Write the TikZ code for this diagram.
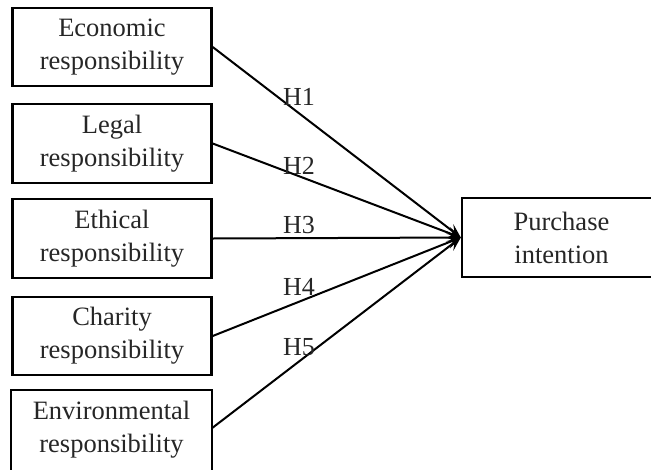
\documentclass[tikz,border=0pt]{standalone}
\usepackage{fontspec}
\setmainfont{Liberation Serif}
\usetikzlibrary{arrows.meta}
\begin{document}
\begin{tikzpicture}[x=1pt,y=-1pt,
  box/.style={draw=black,line width=2.4pt,minimum width=199pt,align=center,inner sep=0pt,
    font=\fontsize{26.5}{33}\selectfont,text=black!85},
  link/.style={line width=2pt,-{Stealth[length=14pt,width=12pt,inset=6pt]}},
  hl/.style={font=\fontsize{26}{30}\selectfont,text=black!85,inner sep=0pt}]
\useasboundingbox (0,0) rectangle (651,469);
\clip (0,0) rectangle (651,469);
\node[box,minimum height=78pt] (e1) at (112,47) {Economic\\responsibility};
\node[box,minimum height=79pt] (e2) at (112,143.5) {Legal\\responsibility};
\node[box,minimum height=79pt] (e3) at (112,238.5) {Ethical\\responsibility};
\node[box,minimum height=78pt] (e4) at (112,336) {Charity\\responsibility};
\node[box,draw=none,minimum height=78pt] (e5) at (111.5,430) {Environmental\\responsibility};
\draw[line width=2.4pt] ([yshift=-15pt]e5.south west) |- (e5.north east) -- ([yshift=-15pt]e5.south east);
\node[box,minimum height=79pt] (pi) at (561.5,237.5) {Purchase\\intention};
\coordinate (t) at (pi.west);
\draw[link] (e1.east) -- (t);
\draw[link] (e2.east) -- (t);
\draw[link] (e3.east) -- (t);
\draw[link] (e4.east) -- (t);
\draw[link] ([yshift=2pt]e5.east) -- (t);
\node[hl] (h1) at (299,97) {H1};
\node[hl] (h2) at (299,166) {H2};
\node[hl] (h3) at (299,225) {H3};
\node[hl] (h4) at (299,287) {H4};
\node[hl] (h5) at (299,347) {H5};
\end{tikzpicture}
\end{document}
